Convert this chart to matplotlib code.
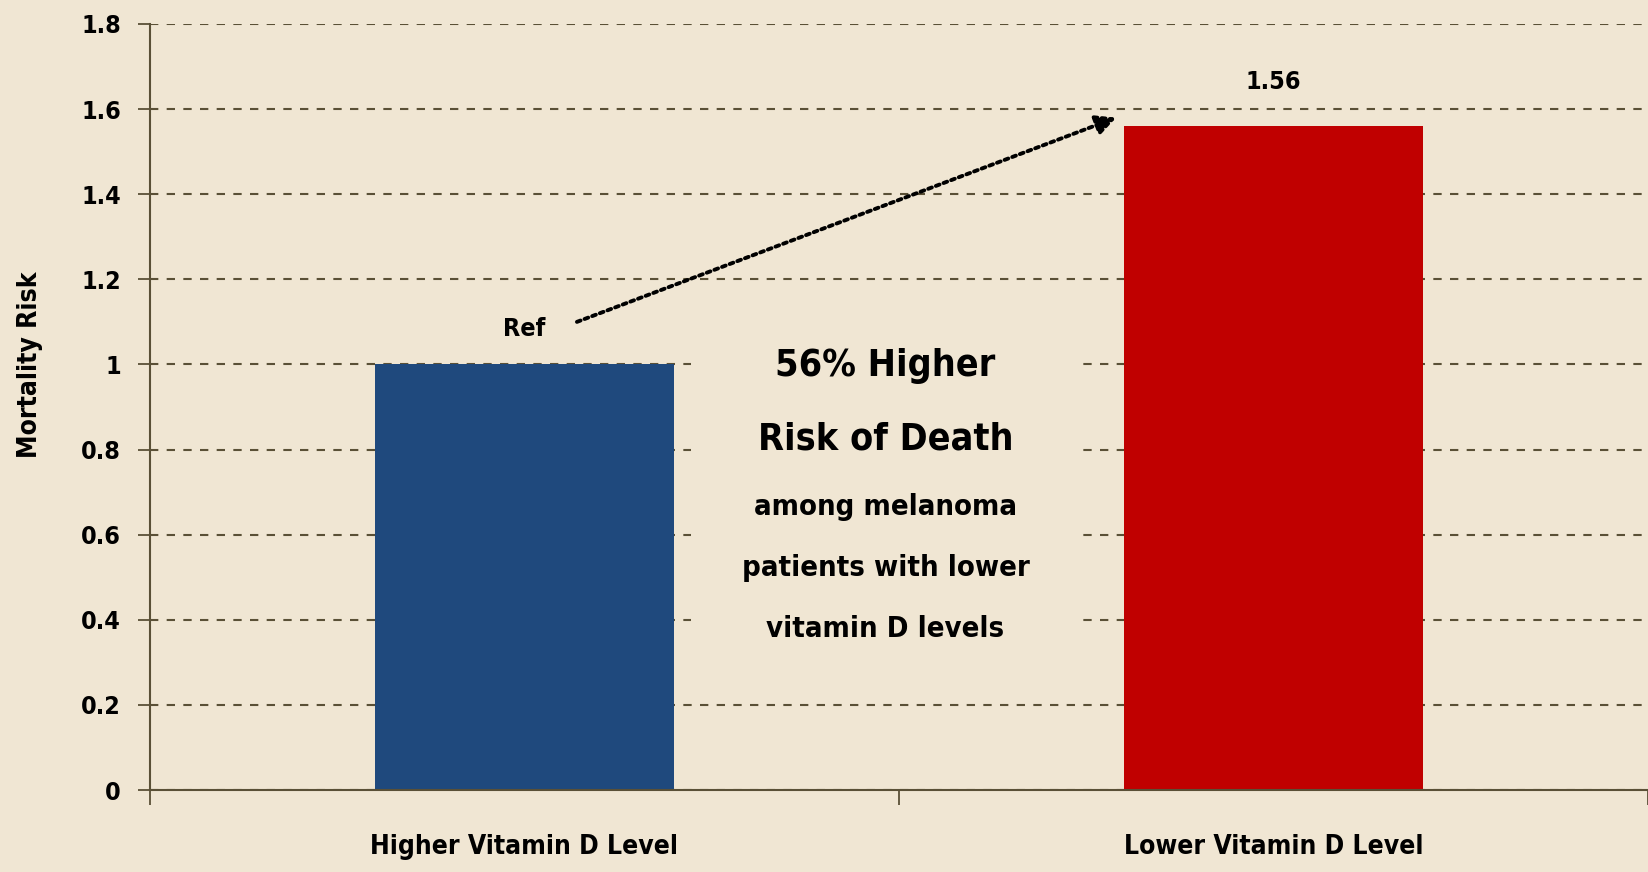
import matplotlib.pyplot as plt
from matplotlib.patches import Rectangle

categories = ['Higher Vitamin D Level', 'Lower Vitamin D Level']
risk = [1.0, 1.56]
bar_labels = ['Ref', '1.56']
bar_colors = ['#1F497D', '#C00000']
yticks = [0, 0.2, 0.4, 0.6, 0.8, 1.0, 1.2, 1.4, 1.6, 1.8]
ytick_labels = ['0', '0.2', '0.4', '0.6', '0.8', '1', '1.2', '1.4', '1.6', '1.8']
note_big = ['56% Higher', 'Risk of Death']
note_small = ['among melanoma', 'patients with lower', 'vitamin D levels']

bg = '#F0E6D3'
axcol = '#5A5036'
plt.rcParams['font.family'] = ['DejaVu Sans']
plt.rcParams['font.stretch'] = 'condensed'
plt.rcParams['font.weight'] = 'bold'

fig = plt.figure(figsize=(16.49, 8.72), dpi=100, facecolor=bg)
ax = fig.add_axes([150/1649, 82/872, 1498/1649, 766/872])
ax.set_facecolor(bg)

x = list(range(len(categories)))
ax.bar(x, risk, width=0.4, color=bar_colors, zorder=3)

offsets = [0.055, 0.075]
for i, (v, lab) in enumerate(zip(risk, bar_labels)):
    ax.text(i, v + offsets[i], lab, ha='center', va='bottom', fontsize=18,
            fontweight='bold', color='black', zorder=4)

ax.set_xlim(-0.5, 1.5)
ax.set_ylim(0, 1.8)
ax.set_yticks(yticks)
ax.set_yticklabels(ytick_labels, fontsize=18, fontweight='bold')
ax.set_xticks(x)
ax.set_xticklabels(categories, fontsize=19, fontweight='bold')
ax.set_xticks([-0.5, 0.5, 1.5], minor=True)
ax.tick_params(axis='x', which='major', length=0, pad=32)
ax.tick_params(axis='x', which='minor', length=11, width=1.3, color=axcol, direction='out')
ax.tick_params(axis='y', length=9, width=1.3, color=axcol, pad=12)

ax.grid(axis='y', linestyle=(0, (4, 4)), linewidth=1.5, color=axcol, zorder=1)
ax.set_axisbelow(True)
for s in ['top', 'right']:
    ax.spines[s].set_visible(False)
for s in ['left', 'bottom']:
    ax.spines[s].set_color(axcol)
    ax.spines[s].set_linewidth(1.5)
ax.spines['bottom'].set_zorder(4)

# background panel behind the note, hides the gridlines
ax.add_patch(Rectangle((0.361, 0.18), 0.262, 0.44, transform=ax.transAxes,
                       facecolor=bg, edgecolor='none', zorder=2))

for j, line in enumerate(note_big):
    ax.text(0.491, 0.553 - j * 0.095, line, transform=ax.transAxes, ha='center',
            va='center', fontsize=27, fontweight='bold', zorder=5)
for j, line in enumerate(note_small):
    ax.text(0.491, 0.370 - j * 0.080, line, transform=ax.transAxes, ha='center',
            va='center', fontsize=21, fontweight='bold', zorder=5)

ax.annotate('', xy=(1 - 0.21, risk[1] + 0.02), xytext=(0.07, risk[0] + 0.10),
            arrowprops=dict(arrowstyle='-|>', color='black', lw=2.8,
                            linestyle=(0, (1, 1.1)), mutation_scale=30,
                            shrinkA=0, shrinkB=0), zorder=5)

fig.text(30/1649, 1 - 365/872, 'Mortality Risk', rotation=90, ha='center',
         va='center', fontsize=19, fontweight='bold')

fig.savefig('out.png', dpi=100, facecolor=bg)
